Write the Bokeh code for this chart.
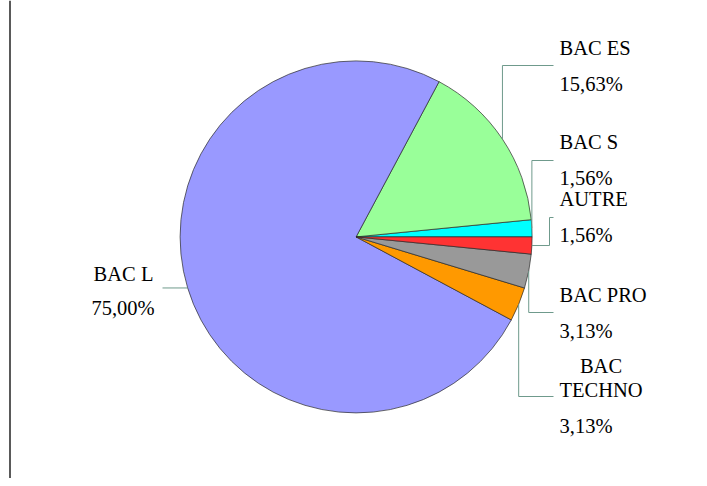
import math
from bokeh.plotting import figure
from bokeh.models import ColumnDataSource, Range1d, Span
from bokeh.core.properties import value
from bokeh.embed import file_html
from bokeh.resources import INLINE

# ---- data (counter-clockwise from 3 o'clock) ----
categories = ["BAC S", "BAC ES", "BAC L", "BAC TECHNO", "BAC PRO", "AUTRE"]
percents = [1.56, 15.63, 75.00, 3.13, 3.13, 1.56]
colors = ["#00FFFF", "#99FF99", "#9999FF", "#FF9900", "#999999", "#FF3333"]

# ---- layout (reference pixel coordinates, y down) ----
W, H = 699, 478
CX, CY, R = 355.6, 236.4, 176.0
FONT = "Liberation Serif"
FS = "20.5px"
LEADER = "#6f9a8c"
TEXT_DY = -8

def Y(yref):
    return H - yref

layout = {
    "BAC ES": dict(names=[("BAC ES", 559, 55, "left")], pct=(559, 91, "left"),
                   line_y=65, elbow_x=None, end_x=553),
    "BAC S": dict(names=[("BAC S", 559, 149, "left")], pct=(559, 185, "left"),
                  line_y=160, elbow_x=None, end_x=553),
    "AUTRE": dict(names=[("AUTRE", 559, 206, "left")], pct=(559, 242, "left"),
                  line_y=217, elbow_x=549, end_x=553),
    "BAC PRO": dict(names=[("BAC PRO", 559, 302, "left")], pct=(559, 338, "left"),
                    line_y=312, elbow_x=None, end_x=553),
    "BAC TECHNO": dict(names=[("BAC", 600.5, 373, "center"), ("TECHNO", 600.5, 397, "center")],
                       pct=(559, 433, "left"), line_y=396, elbow_x=None, end_x=553),
    "BAC L": dict(names=[("BAC L", 123, 281, "center")], pct=(122.5, 315, "center"),
                  line_y=None, elbow_x=None, end_x=162),
}

p = figure(width=W, height=H, output_backend="svg", toolbar_location=None,
           x_range=Range1d(0, W), y_range=Range1d(0, H), min_border=0)
p.axis.visible = False
p.grid.visible = False
p.outline_line_color = None
p.background_fill_color = "white"
p.border_fill_color = "white"

total = sum(percents)
starts, ends = [], []
acc = 0.0
for v in percents:
    starts.append(2 * math.pi * acc / total)
    acc += v
    ends.append(2 * math.pi * acc / total)

src = ColumnDataSource(dict(cat=categories, pct=percents, color=colors,
                            start=starts, end=ends))
p.wedge(x=CX, y=Y(CY), radius=R, start_angle="start", end_angle="end",
        fill_color="color", line_color="#2a2a2a", line_width=0.7, source=src)

xs, ys = [], []
tx, ty, tt, ta = [], [], [], []
for cat, v, s, e in zip(categories, percents, starts, ends):
    mid = (s + e) / 2
    ax = CX + R * math.cos(mid)
    ay = CY - R * math.sin(mid)
    L = layout[cat]
    if L["line_y"] is None:
        px = [ax, L["end_x"]]
        py = [ay, ay]
    else:
        ex = ax if L["elbow_x"] is None else L["elbow_x"]
        px = [ax, ex, ex, L["end_x"]]
        py = [ay, ay, L["line_y"], L["line_y"]]
    xs.append(px)
    ys.append([Y(q) for q in py])
    for (t, x, b, al) in L["names"]:
        tx.append(x); ty.append(Y(b + TEXT_DY)); tt.append(t); ta.append(al)
    pctx, pcty, pal = L["pct"]
    tx.append(pctx); ty.append(Y(pcty + TEXT_DY))
    tt.append(f"{v:.2f}".replace(".", ",") + "%"); ta.append(pal)

p.multi_line(xs=xs, ys=ys, line_color=LEADER, line_width=1)

tsrc = ColumnDataSource(dict(x=tx, y=ty, text=tt, align=ta))
p.text(x="x", y="y", text="text", text_align="align", text_baseline="alphabetic",
       text_font=value(FONT), text_font_size=value(FS), text_color="#000000", source=tsrc)

p.add_layout(Span(location=9.5, dimension="height", line_color="black", line_width=1.3))

open("out.html", "w").write(file_html(p, INLINE))
